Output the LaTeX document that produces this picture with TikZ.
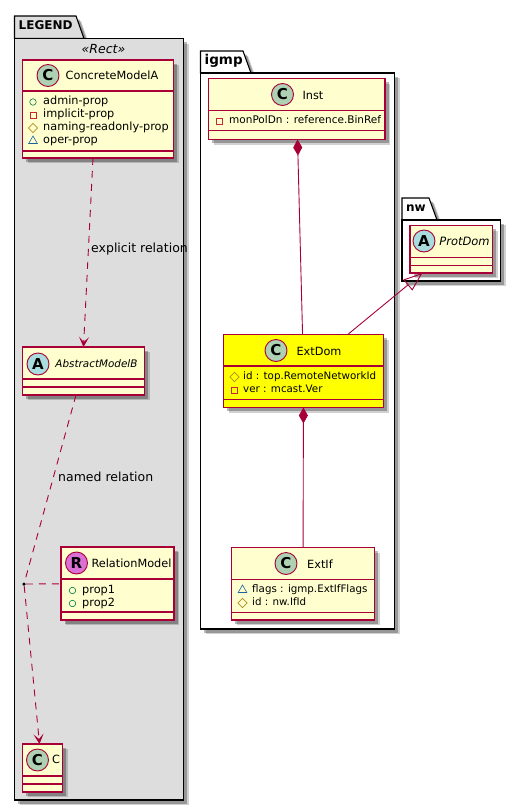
\documentclass[tikz,border=0pt]{standalone}
\usepackage{fontspec}
\setmainfont{DejaVu Sans}
\usepackage{tikz}
\usetikzlibrary{arrows.meta,calc,positioning,shapes.geometric,shadows}
\definecolor{umlred}{HTML}{A80036}
\definecolor{umlfill}{HTML}{FEFECE}
\definecolor{pkggray}{HTML}{DDDDDD}
\definecolor{spotc}{HTML}{ADD1B2}
\definecolor{spota}{HTML}{A9DCDF}
\definecolor{spotr}{HTML}{DA70D6}
\definecolor{hiyellow}{HTML}{FFFF00}
\definecolor{icongreen}{HTML}{038048}
\definecolor{iconred}{HTML}{C82930}
\definecolor{icongold}{HTML}{B38D22}
\definecolor{iconblue}{HTML}{1963A0}

\begin{document}
\begin{tikzpicture}[
  x=1pt,y=-1pt,
  font=\fontsize{11.3}{13}\selectfont,
  softshadow/.style={
    drop shadow={shadow xshift=5pt,shadow yshift=-5pt,fill=black,opacity=0.18},
    drop shadow={shadow xshift=3.5pt,shadow yshift=-3.5pt,fill=black,opacity=0.28}},
  pkgbody/.style={rectangle,draw=black,line width=1.3pt,inner sep=0pt,outer sep=0pt,softshadow},
  pkgtab/.style={draw=black,line width=1.1pt,softshadow},
  classbox/.style={rectangle,draw=umlred,line width=1.3pt,inner sep=0pt,outer sep=0pt,softshadow},
  sepline/.style={draw=umlred,line width=1.1pt},
  classname/.style={font=\fontsize{11.3}{13}\selectfont},
  spot/.style={circle,draw=umlred,line width=0.9pt,minimum size=22pt,inner sep=0pt,
    font=\fontsize{15}{15}\bfseries\selectfont},
  attrtext/.style={anchor=mid west,inner sep=0pt},
  pubicon/.style={circle,draw=icongreen,line width=0.6pt,minimum size=6.5pt,inner sep=0pt},
  privicon/.style={rectangle,draw=iconred,line width=0.6pt,minimum size=6pt,inner sep=0pt},
  proticon/.style={diamond,draw=icongold,line width=0.6pt,minimum size=9.5pt,inner sep=0pt},
  pkgicon/.style={regular polygon,regular polygon sides=3,draw=iconblue,line width=0.6pt,
    minimum size=10pt,inner sep=0pt},
  assoc/.style={draw=umlred,line width=0.9pt},
  relation/.style={assoc,dash pattern=on 7pt off 6pt,-{Stealth[length=10pt,width=10pt,inset=5pt,fill=umlred]}},
  plainrel/.style={assoc,dash pattern=on 7pt off 6pt},
  compose/.style={assoc,{Diamond[length=16pt,width=9pt,fill=umlred]}-},
  extends/.style={assoc,-{Triangle[open,length=19pt,width=14pt,fill=none]}},
  reldot/.style={circle,fill=black,minimum size=3.5pt,inner sep=0pt},
  edgelabel/.style={anchor=mid west,inner sep=0pt,font=\fontsize{12.5}{14}\selectfont}
]
\useasboundingbox (0,0) rectangle (521,811);
% packages
\foreach \name/\xa/\ya/\xb/\yb/\tabx/\taby/\col/\lab/\fs in {
  legend/14.5/38.5/183.5/800/76/16/pkggray/LEGEND/12,
  igmp/200.5/73/394.5/629/243/51/white/igmp/13.5,
  nw/402/220/500.5/281/429/198/white/nw/12}{
  \pgfmathsetmacro\w{\xb-\xa}
  \pgfmathsetmacro\h{\yb-\ya}
  \draw[pkgtab,fill=\col] (\xa,\ya) -- (\xa,\taby) -- (\tabx,\taby) -- (\tabx+8,\ya) -- cycle;
  \node[pkgbody,fill=\col,anchor=north west,minimum width=\w pt,minimum height=\h pt] (\name) at (\xa,\ya) {};
  \node[anchor=mid west,inner sep=0pt,font=\fontsize{\fs}{14}\bfseries\selectfont] (\name-lab) at (\xa+4,\taby+11) {\lab};
}
\node[font=\fontsize{12.5}{14}\itshape\selectfont] (rect) at (103.5,49.5) {«Rect»};
% classes
\foreach \name/\xa/\ya/\xb/\yb/\sa/\sb/\col in {
  ConcreteModelA/22.5/60/173.5/158/91/151/umlfill,
  AbstractModelB/22.5/347/144.5/395/379/387/umlfill,
  RelationModel/61/547/174/620/579/612/umlfill,
  CBox/22.5/744/62.5/792/776/784/umlfill,
  Inst/208.5/78.5/385/139.5/110.5/130.5/umlfill,
  ExtDom/223.5/334.5/383.5/407.5/366/399.5/hiyellow,
  ExtIf/231.5/547.5/374.5/620/579.5/612.5/umlfill,
  ProtDom/410/225.5/492.5/273/257.5/265.5/umlfill}{
  \pgfmathsetmacro\w{\xb-\xa}
  \pgfmathsetmacro\h{\yb-\ya}
  \node[classbox,fill=\col,anchor=north west,minimum width=\w pt,minimum height=\h pt] (\name) at (\xa,\ya) {};
  \draw[sepline] (\xa,\sa) -- (\xb,\sa);
  \draw[sepline] (\xa,\sb) -- (\xb,\sb);
}
% spots
\foreach \name/\x/\y/\col/\lett in {
  s1/48/75.5/spotc/C,s2/38/364/spota/A,s3/76.5/563/spotr/R,s4/37.5/760/spotc/C,
  s5/282.5/94.5/spotc/C,s6/276/350.5/spotc/C,s7/286/563.5/spotc/C,s8/424/241/spota/A}{
  \node[spot,fill=\col] (\name) at (\x,\y) {\lett};
}
% class names
\node[classname] (n1) at (112,75.5) {ConcreteModelA};
\node[font=\fontsize{10.4}{13}\itshape\selectfont] (n2) at (96.5,364) {AbstractModelB};
\node[classname] (n3) at (131.5,563.5) {RelationModel};
\node[classname,anchor=mid west,inner sep=0pt] (n4) at (52,760.5) {C};
\node[classname] (n5) at (313,95) {Inst};
\node[classname] (n6) at (319,351) {ExtDom};
\node[classname] (n7) at (320,564) {ExtIf};
\node[font=\fontsize{11.5}{13}\itshape\selectfont] (n8) at (464.5,241.5) {ProtDom};
% attributes
\foreach \name/\ix/\tx/\y/\icon/\fs/\txt in {
  a1/33/43/102/pubicon/11.3/admin-prop,
  a2/33/43/115/privicon/11.3/implicit-prop,
  a3/33/43/128/proticon/11.3/naming-readonly-prop,
  a4/33/43/141/pkgicon/11.3/oper-prop,
  a5/72.5/82/590.5/pubicon/11.3/prop1,
  a6/72.5/82/603.5/pubicon/11.3/prop2,
  a7/219/229/121/privicon/10.5/monPolDn : reference.BinRef,
  a8/234.5/243/377/proticon/10.3/id : top.RemoteNetworkId,
  a9/234.5/243/390/privicon/10.3/ver : mcast.Ver,
  a10/242.5/252/590/pkgicon/10.3/flags : igmp.ExtIfFlags,
  a11/242.5/252/603/proticon/10.3/id : nw.IfId}{
  \node[\icon] (\name-i) at (\ix,\y) {};
  \node[attrtext,font=\fontsize{\fs}{13}\selectfont] (\name) at (\tx,\y) {\txt};
}
% relations
\node[reldot] (Dot) at (24,584) {};
\draw[relation] ([xshift=-5pt]ConcreteModelA.south) -- (AbstractModelB.north);
\draw[plainrel] ([xshift=-7.5pt]AbstractModelB.south) -- (Dot);
\draw[plainrel] (Dot) -- (RelationModel);
\draw[relation] (Dot) -- ([xshift=-3pt]CBox.north);
\draw[compose] (Inst) -- (ExtDom);
\draw[compose] (ExtDom) -- (ExtIf);
\draw[extends] (ExtDom) -- (ProtDom);
% labels
\node[edgelabel] (explicit) at (91,250) {explicit relation};
\node[edgelabel] (named) at (58,478.5) {named relation};
\end{tikzpicture}
\end{document}
